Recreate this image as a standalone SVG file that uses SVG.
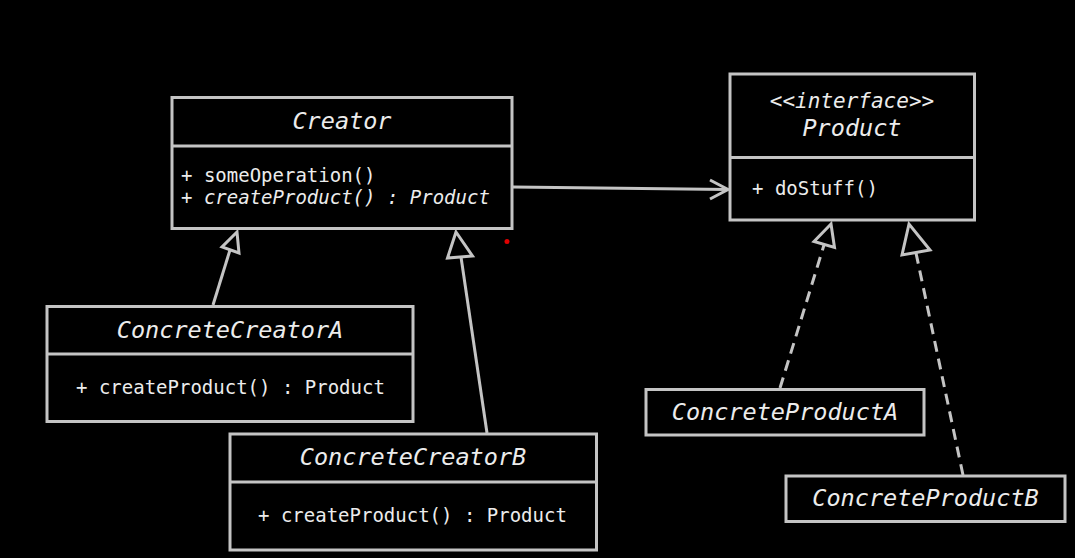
<svg xmlns="http://www.w3.org/2000/svg" width="1075" height="558" viewBox="0 0 1075 558">
<style>
.box{fill:#000;stroke:#c4c4c4;stroke-width:3}
.div{stroke:#c4c4c4;stroke-width:3}
.t{font-family:"DejaVu Sans Mono","Liberation Mono",monospace;fill:#ececec}
.title{font-size:23.5px;font-style:italic;text-anchor:middle}
.iface{font-size:21px;font-style:italic;text-anchor:middle}
.m{font-size:19px}
.mi{font-style:italic}
.ln{stroke:#c4c4c4;stroke-width:3;fill:none}
.dash{stroke-dasharray:11 7}
.tri{fill:#000;stroke:#c4c4c4;stroke-width:3;stroke-linejoin:miter}
</style>
<rect width="1075" height="558" fill="#000"/>
<g id="connectors">
<line class="ln" x1="513" y1="187" x2="728" y2="189.5"/>
<polyline class="ln" points="710,180 728,189.5 710,199"/>
<line class="ln" x1="213" y1="305" x2="230" y2="250"/>
<polygon class="tri" points="237,232 222,247 239,253"/>
<line class="ln" x1="487" y1="433" x2="461" y2="257"/>
<polygon class="tri" points="456,232 447.5,258 472.5,256"/>
<line class="ln dash" x1="780" y1="388" x2="824" y2="245"/>
<polygon class="tri" points="831,224 814,241.5 834.5,247.5"/>
<line class="ln dash" x1="963" y1="475" x2="916" y2="253"/>
<polygon class="tri" points="909,224 902,255 930,250"/>
</g>
<g id="Creator">
<rect class="box" x="172" y="97.5" width="340" height="131"/>
<line class="div" x1="172" y1="146" x2="512" y2="146"/>
<text class="t title" x="342" y="129">Creator</text>
<text class="t m" x="181" y="182">+ someOperation()</text>
<text class="t m mi" x="181" y="204">+ createProduct() : Product</text>
</g>
<g id="Product">
<rect class="box" x="730" y="74" width="244.5" height="146"/>
<line class="div" x1="730" y1="157.5" x2="974.5" y2="157.5"/>
<text class="t iface" x="852" y="108">&lt;&lt;interface&gt;&gt;</text>
<text class="t title" x="852" y="136">Product</text>
<text class="t m" x="752" y="195">+ doStuff()</text>
</g>
<g id="ConcreteCreatorA">
<rect class="box" x="47" y="306.5" width="366" height="115"/>
<line class="div" x1="47" y1="354" x2="413" y2="354"/>
<text class="t title" x="230" y="338">ConcreteCreatorA</text>
<text class="t m" x="76" y="394">+ createProduct() : Product</text>
</g>
<g id="ConcreteCreatorB">
<rect class="box" x="230" y="434" width="366.5" height="116"/>
<line class="div" x1="230" y1="482" x2="596.5" y2="482"/>
<text class="t title" x="413" y="465">ConcreteCreatorB</text>
<text class="t m" x="258" y="522">+ createProduct() : Product</text>
</g>
<g id="ConcreteProductA">
<rect class="box" x="646" y="389.5" width="278" height="45.5"/>
<text class="t title" x="785" y="420">ConcreteProductA</text>
</g>
<g id="ConcreteProductB">
<rect class="box" x="786" y="476" width="279" height="45.5"/>
<text class="t title" x="925.5" y="506">ConcreteProductB</text>
</g>
<circle cx="507" cy="241.5" r="2.5" fill="#e00000"/>
</svg>
